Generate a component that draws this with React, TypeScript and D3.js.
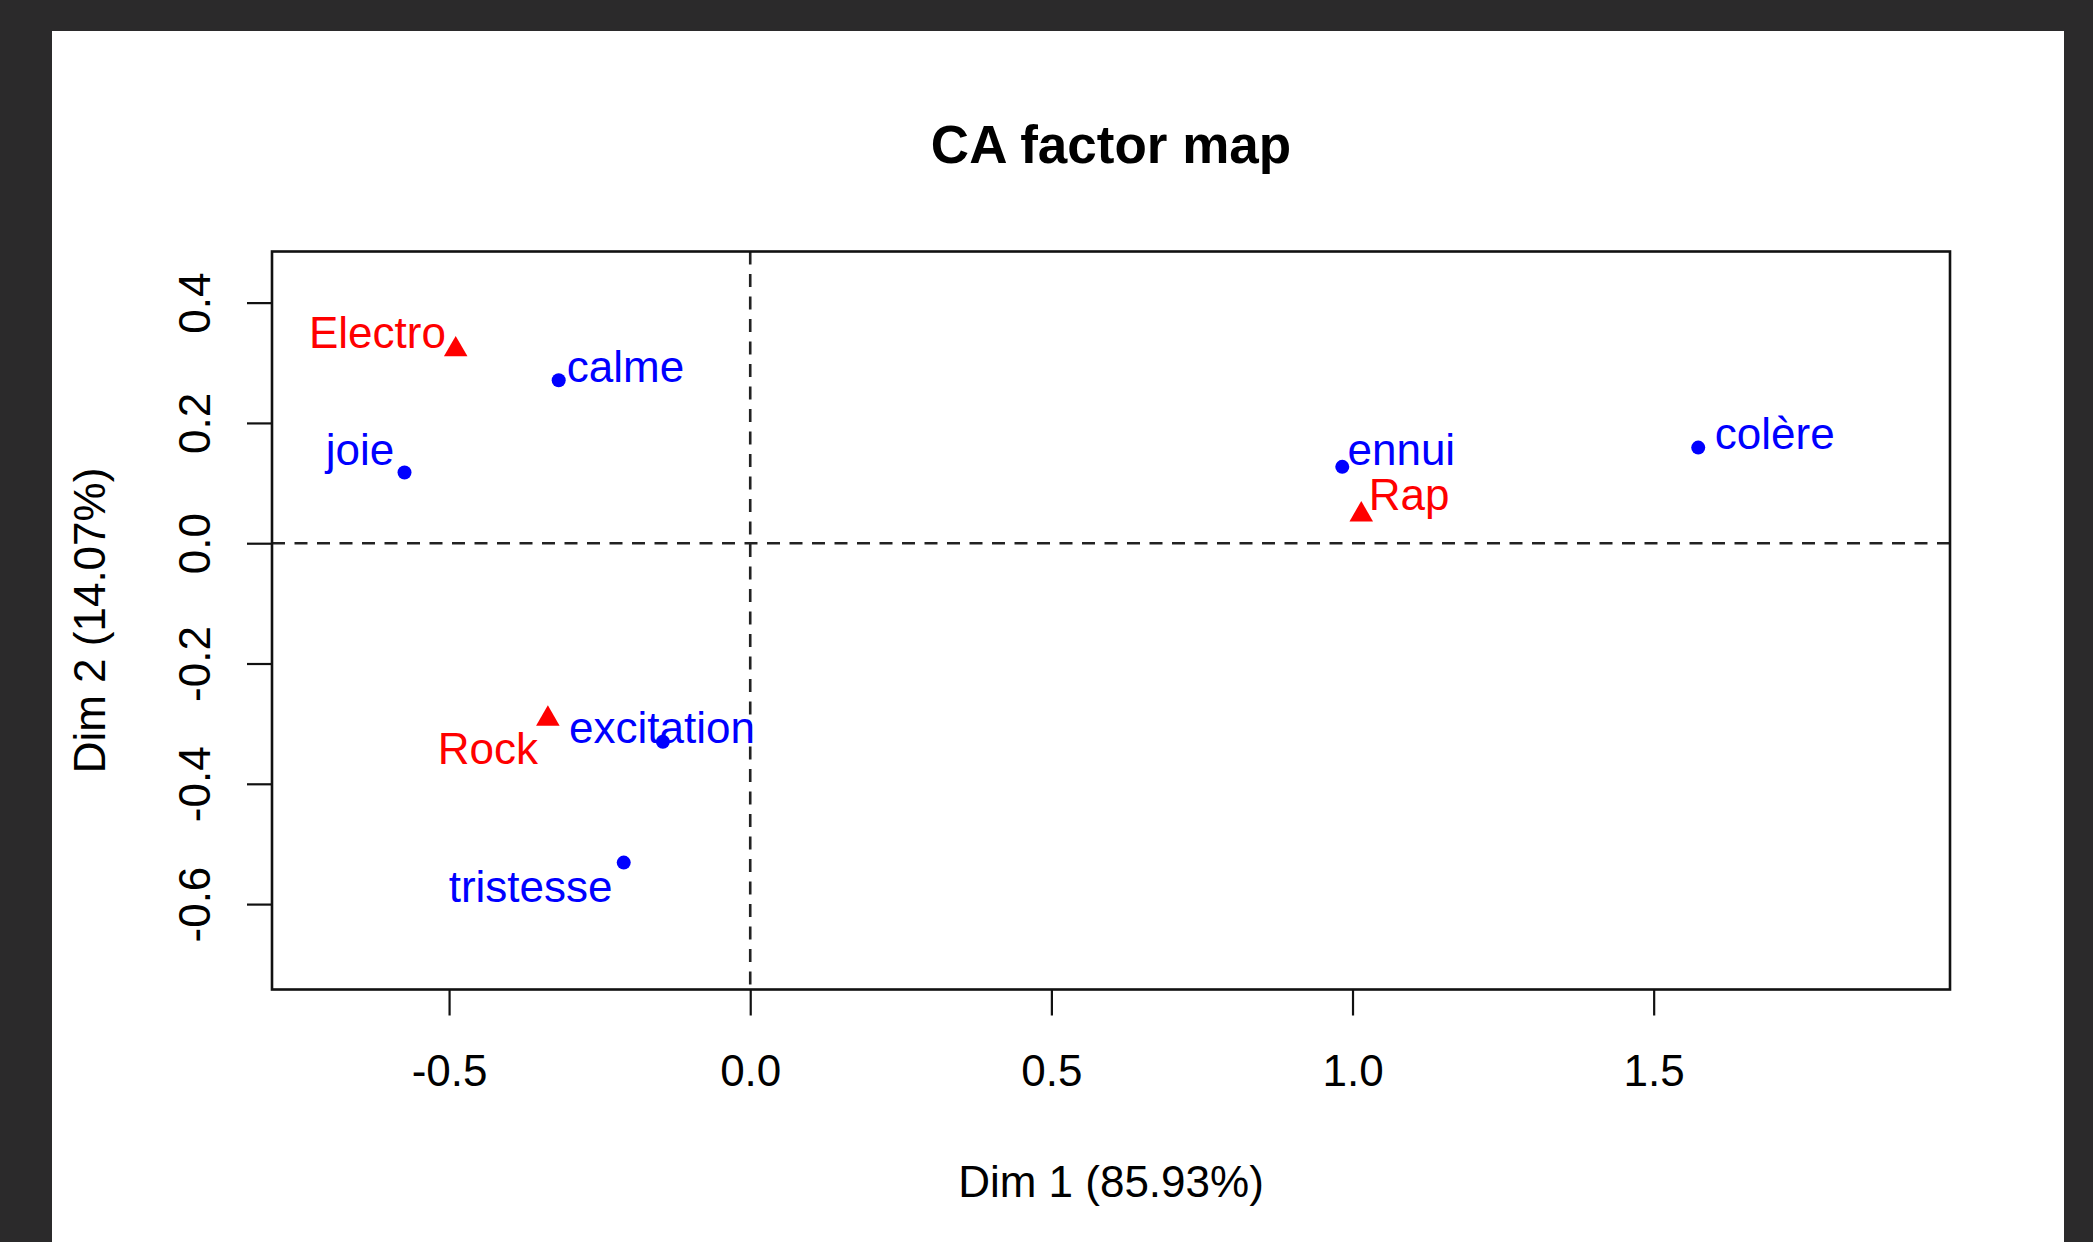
import React, { useEffect, useRef } from 'react';
import * as d3 from 'd3';

const WIDTH = 2093;
const HEIGHT = 1242;
// plot box (R plot region)
const margin = { l: 272, r: 143, t: 251.5, b: 251.5 };
const FONT = '"Liberation Sans", Arial, Helvetica, sans-serif';
const FS = 44;

// row points (genres) - red triangles
const rowNames = ['Electro', 'Rock', 'Rap'];
const rowDim1 = [-0.489, -0.336, 1.0145];
const rowDim2 = [0.322, -0.292, 0.0476];
// label centres (data units), as placed by autoLab
const rowLabDim1 = [-0.619, -0.4356, 1.094];
const rowLabDim2 = [0.3515, -0.34, 0.081];

// column points (emotions) - blue dots
const colNames = ['calme', 'joie', 'excitation', 'tristesse', 'ennui', 'colère'];
const colDim1 = [-0.318, -0.574, -0.145, -0.21, 0.983, 1.574];
const colDim2 = [0.271, 0.1175, -0.33, -0.531, 0.127, 0.159];
const colLabDim1 = [-0.207, -0.648, -0.1465, -0.3646, 1.081, 1.701];
const colLabDim2 = [0.295, 0.156, -0.306, -0.571, 0.1557, 0.183];

const xTicks = [-0.5, 0, 0.5, 1, 1.5];
const yTicks = [-0.6, -0.4, -0.2, 0, 0.2, 0.4];
const xDomain = [-0.794, 1.992];
const yDomain = [-0.742, 0.485];

const fmt = (d: number) => d.toFixed(1);

const CAMap = () => {
  const plotW = WIDTH - margin.l - margin.r;
  const plotH = HEIGHT - margin.t - margin.b - 1;

  const xScale = d3.scaleLinear().domain(xDomain).range([0, plotW]);
  const yScale = d3.scaleLinear().domain(yDomain).range([plotH, 0]);

  const $xaxis: any = useRef(null);
  const $yaxis: any = useRef(null);

  useEffect(() => {
    const xAxis = d3.axisBottom(xScale).tickValues(xTicks).tickSize(26).tickFormat(fmt as any);
    const gx = d3.select($xaxis.current);
    gx.selectAll('*').remove();
    gx.call(xAxis as any);
    gx.select('.domain').remove();
    gx.selectAll('line').attr('stroke', '#111').attr('stroke-width', 2.2);
    gx.selectAll('text')
      .attr('y', 96)
      .attr('dy', null)
      .attr('fill', '#000')
      .style('font-family', FONT)
      .style('font-size', `${FS}px`);

    const yAxis = d3.axisLeft(yScale).tickValues(yTicks).tickSize(25).tickFormat(fmt as any);
    const gy = d3.select($yaxis.current);
    gy.selectAll('*').remove();
    gy.call(yAxis as any);
    gy.select('.domain').remove();
    gy.selectAll('line').attr('stroke', '#111').attr('stroke-width', 2.2);
    gy.selectAll('text')
      .attr('x', null)
      .attr('dy', null)
      .attr('text-anchor', 'middle')
      .attr('transform', 'translate(-62.5,0) rotate(-90)')
      .attr('fill', '#000')
      .style('font-family', FONT)
      .style('font-size', `${FS}px`);
  }, [xScale, yScale]);

  const tri = d3.symbol().type(d3.symbolTriangle).size(240)();

  return (
    <svg width={WIDTH} height={HEIGHT} style={{ display: 'block' }}>
      <rect x={0} y={0} width={WIDTH} height={HEIGHT} fill="#2b2a2b" />
      <rect x={52} y={31} width={2012} height={HEIGHT - 31} fill="#fff" />

      <text
        x={margin.l + plotW / 2}
        y={163}
        textAnchor="middle"
        fontFamily={FONT}
        fontWeight="bold"
        fontSize={53}
        fill="#000"
      >
        CA factor map
      </text>

      <g transform={`translate(${margin.l}, ${margin.t})`}>
        {/* axes at zero */}
        <line
          x1={0}
          x2={plotW}
          y1={yScale(0)}
          y2={yScale(0)}
          stroke="#222"
          strokeWidth={2.6}
          strokeDasharray="13 9.5"
        />
        <line
          x1={xScale(0)}
          x2={xScale(0)}
          y1={0}
          y2={plotH}
          stroke="#222"
          strokeWidth={2.6}
          strokeDasharray="13 9.5"
        />

        {colNames.map((n, i) => (
          <g key={n}>
            <circle cx={xScale(colDim1[i])} cy={yScale(colDim2[i])} r={7} fill="#0000ff" />
            <text
              x={xScale(colLabDim1[i])}
              y={yScale(colLabDim2[i]) + FS * 0.36}
              textAnchor="middle"
              fontFamily={FONT}
              fontSize={FS}
              fill="#0000ff"
            >
              {n}
            </text>
          </g>
        ))}

        {rowNames.map((n, i) => (
          <g key={n}>
            <path
              d={tri || ''}
              transform={`translate(${xScale(rowDim1[i])}, ${yScale(rowDim2[i])})`}
              fill="#ff0000"
            />
            <text
              x={xScale(rowLabDim1[i])}
              y={yScale(rowLabDim2[i]) + FS * 0.36}
              textAnchor="middle"
              fontFamily={FONT}
              fontSize={FS}
              fill="#ff0000"
            >
              {n}
            </text>
          </g>
        ))}

        <g transform={`translate(0, ${plotH})`} ref={$xaxis} />
        <g ref={$yaxis} />

        <rect x={0} y={0} width={plotW} height={plotH} fill="none" stroke="#111" strokeWidth={2.6} />

        <text
          x={plotW / 2}
          y={1197 - margin.t}
          textAnchor="middle"
          fontFamily={FONT}
          fontSize={FS}
          fill="#000"
        >
          Dim 1 (85.93%)
        </text>
        <text
          transform={`translate(${104.5 - margin.l}, ${plotH / 2}) rotate(-90)`}
          textAnchor="middle"
          fontFamily={FONT}
          fontSize={FS}
          fill="#000"
        >
          Dim 2 (14.07%)
        </text>
      </g>
    </svg>
  );
};

export default function App() {
  return (
    <div style={{ position: 'absolute', left: 0, top: 0 }}>
      <CAMap />
    </div>
  );
}
